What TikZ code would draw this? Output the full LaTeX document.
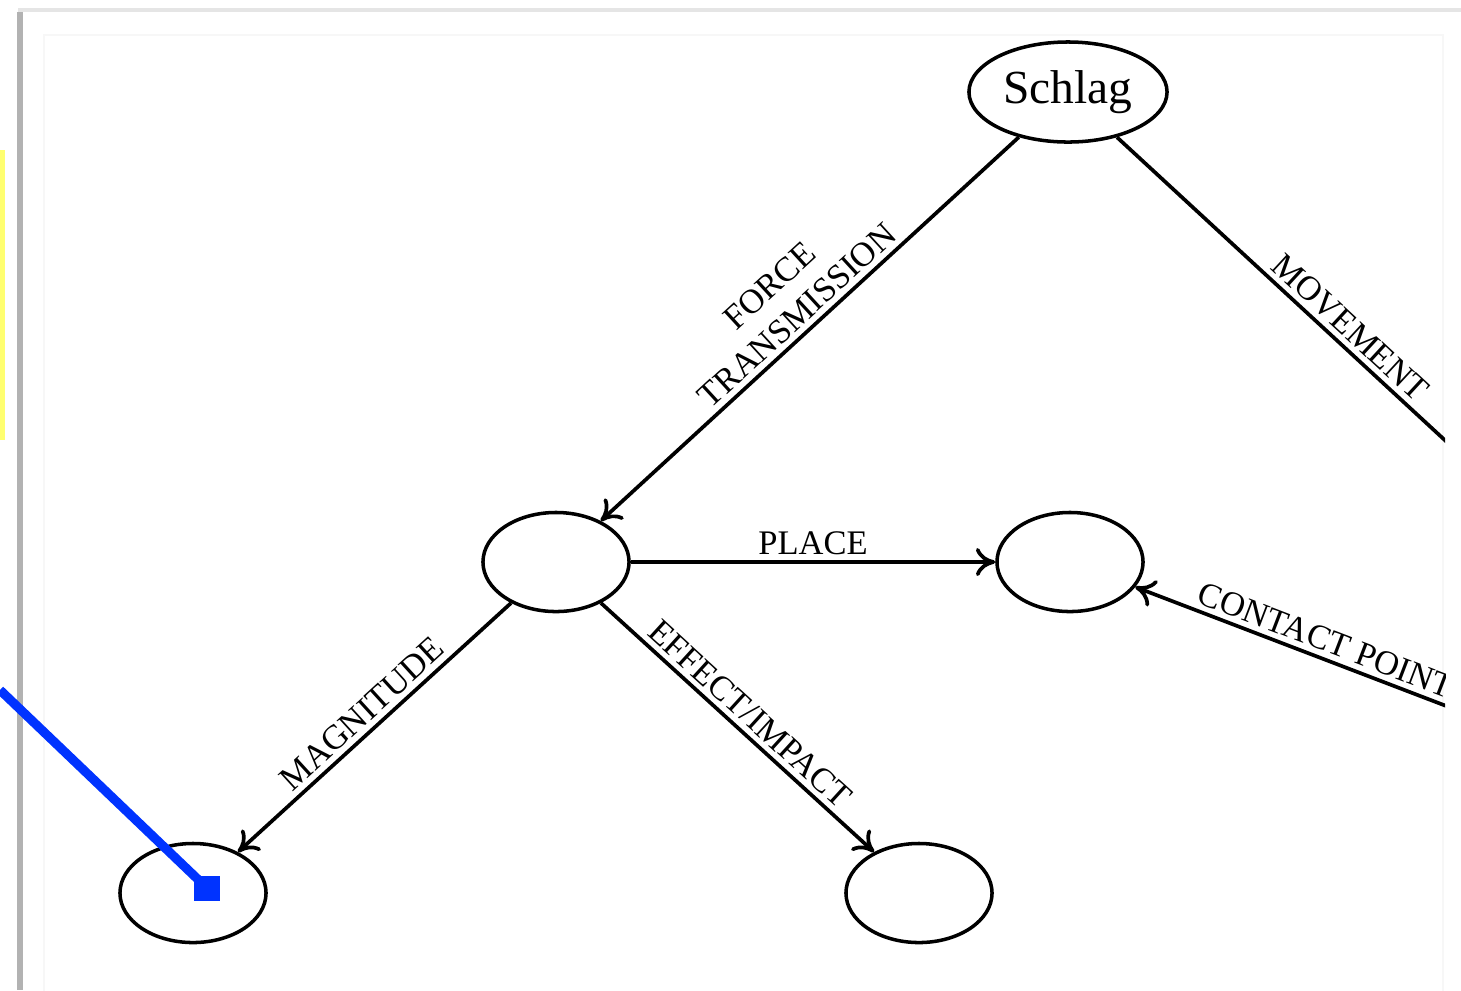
\documentclass[tikz,border=0pt]{standalone}
\usepackage{fontspec}
\setmainfont{Liberation Serif}
\usetikzlibrary{shapes.geometric,arrows.meta}
\definecolor{selblue}{RGB}{0,51,255}
\definecolor{noteyellow}{RGB}{255,255,112}

\begin{document}
\begin{tikzpicture}[x=0.01cm,y=-0.01cm,
  topic/.style={draw,ellipse,line width=1pt,inner sep=0pt,minimum width=1.46cm,minimum height=0.99cm},
  rel/.style={line width=1.05pt,-{To[length=5.5pt,width=8pt]}},
  lbl/.style={above,sloped,inner sep=1.5pt,align=center,font=\fontsize{9.8}{11.5}\selectfont},
  grip/.style={fill=selblue,inner sep=0pt,minimum size=0.25cm},
  bluelink/.style={selblue,line width=2.6pt}]
\useasboundingbox (0,0) rectangle (1461,990);
%window frame
\draw[gray!20,line width=1.2pt] (18,10) -- (1461,10);
\draw[gray!60,line width=1.6pt] (20,12) -- (20,990);
\draw[gray!6,line width=0.6pt] (44,35) rectangle (1443,995);
\fill[noteyellow] (0,150) rectangle (5,440);

\begin{scope}
\clip (44,35) rectangle (1445,990);
%concepts
\node[topic,minimum width=1.98cm,minimum height=1.0cm,font=\fontsize{13.5}{15}\selectfont] (schlag) at (1068,92) {Schlag};
\node[topic] (force) at (556,562) {};
\node[topic] (place) at (1070,562) {};
\node[topic] (magn) at (193,893) {};
\node[topic] (effect) at (919,893) {};
\coordinate (move) at (1935,893);

%relations
\draw[rel] (schlag) -- node[lbl]{FORCE\\TRANSMISSION} (force);
\draw[rel] (schlag) -- node[lbl,pos=.27]{MOVEMENT} (move);
\draw[rel] (force) -- node[lbl]{PLACE} (place);
\draw[rel] (move) -- node[lbl,pos=.77]{CONTACT POINT} (place);
\draw[rel] (force) -- node[lbl]{MAGNITUDE} (magn);
\draw[rel] (force) -- node[lbl]{EFFECT/IMPACT} (effect);
\end{scope}

%selection handle
\coordinate (lead) at (0,690);
\node[grip] (grip) at (207,888) {};
\draw[bluelink] (lead) -- (grip.center);
\end{tikzpicture}
\end{document}
